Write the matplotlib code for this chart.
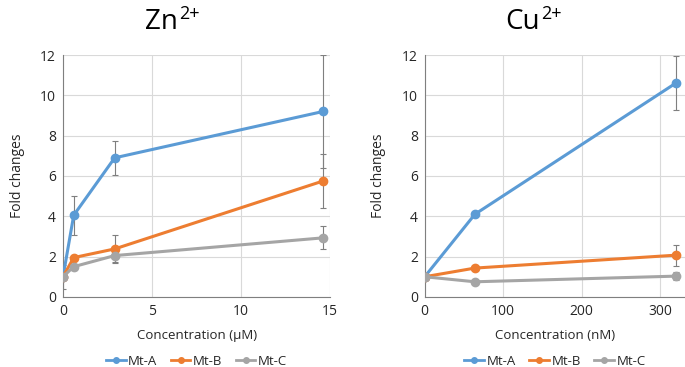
import matplotlib.pyplot as plt
from matplotlib.lines import Line2D

# Zn2+ panel
zn_conc = [0, 0.6, 2.9, 14.6]
zn_a = [1.0, 4.05, 6.9, 9.2]
zn_a_err = [0.0, 0.97, 0.85, 2.8]
zn_b = [1.0, 1.95, 2.38, 5.75]
zn_b_err = [0.0, 0.0, 0.68, 1.35]
zn_c = [1.0, 1.5, 2.05, 2.93]
zn_c_err = [0.6, 0.15, 0.3, 0.57]

# Cu2+ panel
cu_conc = [0, 64, 320]
cu_a = [1.0, 4.1, 10.6]
cu_a_err = [0.0, 0.0, 1.33]
cu_b = [1.0, 1.43, 2.07]
cu_b_err = [0.0, 0.0, 0.53]
cu_c = [1.0, 0.75, 1.03]
cu_c_err = [0.0, 0.0, 0.2]

names = ["Mt-A", "Mt-B", "Mt-C"]
colors = ["#5B9BD5", "#ED7D31", "#A5A5A5"]

plt.rcParams['font.family'] = ['Open Sans', 'DejaVu Sans']

fig = plt.figure(figsize=(6.85, 3.67), dpi=100)
ax1 = fig.add_axes([0.092, 0.191, 0.39, 0.659])
ax2 = fig.add_axes([0.620, 0.191, 0.38, 0.659])


def panel(ax, x, series, errs, xlim, xticks, xlabel):
    for y, e, c in zip(series, errs, colors):
        ax.errorbar(x, y, yerr=e, color=c, lw=2.2, marker='o', ms=6,
                    ecolor='#7f7f7f', elinewidth=0.8, capsize=2.5, capthick=0.8,
                    zorder=3)
    ax.set_xlim(*xlim)
    ax.set_ylim(0, 12)
    ax.set_xticks(xticks)
    ax.set_yticks(range(0, 13, 2))
    ax.grid(True, color='#d9d9d9', lw=0.8)
    ax.set_axisbelow(True)
    for s in ['top', 'right']:
        ax.spines[s].set_visible(False)
    for s in ['left', 'bottom']:
        ax.spines[s].set_color('#7f7f7f')
    ax.tick_params(length=0, labelsize=10, colors='#262626', pad=5)
    ax.set_xlabel(xlabel, fontsize=9.5, color='#262626', labelpad=7)
    ax.set_ylabel("Fold changes", fontsize=10, color='#262626', labelpad=11)
    handles = [Line2D([], [], color=c, lw=2, marker='o', ms=4) for c in colors]
    ax.legend(handles, names, loc='upper center', bbox_to_anchor=(0.5, -0.2),
              ncol=3, frameon=False, fontsize=9.5, handlelength=1.5,
              handletextpad=0.2, columnspacing=1.0, labelcolor='#262626',
              borderpad=0.2)


panel(ax1, zn_conc, [zn_a, zn_b, zn_c], [zn_a_err, zn_b_err, zn_c_err],
      (0, 15), [0, 5, 10, 15], "Concentration (\u00b5M)")
panel(ax2, cu_conc, [cu_a, cu_b, cu_c], [cu_a_err, cu_b_err, cu_c_err],
      (0, 332), [0, 100, 200, 300], "Concentration (nM)")

for el, sx, base in [("Zn", 178, 29), ("Cu", 540, 29)]:
    fig.text(sx / 685, 1 - base / 367, el, fontsize=20, ha='right', va='baseline')
    fig.text((sx + 1) / 685, 1 - 19 / 367, "2+", fontsize=13, ha='left', va='baseline')

fig.savefig("out.png", dpi=100)
